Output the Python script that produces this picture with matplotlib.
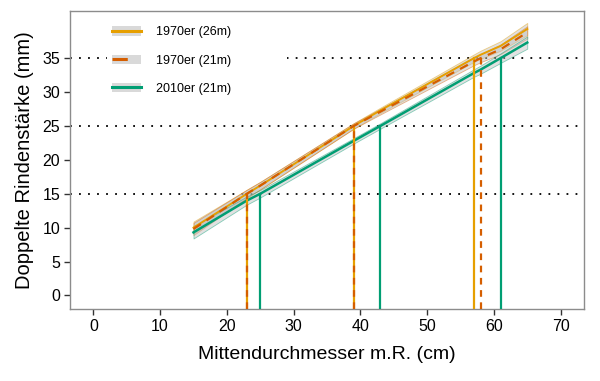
import numpy as np
import matplotlib.pyplot as plt
from matplotlib.lines import Line2D
from matplotlib.patches import Patch

plt.rcParams['font.family'] = ['Liberation Sans', 'DejaVu Sans']

# fitted lines
x_fit = [15, 23, 25, 39, 43, 57, 58, 61, 65]
y_26m_70 = [10.0, 15.0, 16.2, 25.0, 27.3, 35.0, 35.5, 36.8, 39.3]
y_21m_70 = [9.8, 15.0, 16.2, 25.0, 27.1, 34.5, 35.0, 36.3, 38.8]
y_21m_10 = [9.3, 14.0, 15.0, 22.8, 25.0, 32.8, 33.3, 35.0, 37.3]
# half width of the confidence ribbons
band = [0.9, 0.6, 0.55, 0.4, 0.4, 0.55, 0.6, 0.7, 0.9]

# diameters where the fits reach 15 / 25 / 35 mm
levels = [15, 25, 35]
cross_26m_70 = [23, 39, 57]
cross_21m_70 = [23, 39, 58]
cross_21m_10 = [25, 43, 61]

labels = ['1970er (26m)', '1970er (21m)', '2010er (21m)']
c_or, c_ve, c_gr = '#E69F00', '#D55E00', '#009E73'

fig = plt.figure(figsize=(6, 3.81), dpi=100)
ax = fig.add_axes([70/600, 1 - 309/381, 514/600, 298.3/381])

for lv in levels:
    ax.axhline(lv, color='black', lw=1.3, ls=(0, (1, 4)), zorder=1)

for ys, col in [(y_26m_70, c_or), (y_21m_70, c_ve), (y_21m_10, c_gr)]:
    ys = np.array(ys)
    bw = np.array(band)
    ax.fill_between(x_fit, ys - bw, ys + bw, facecolor='#bdbdbd', alpha=0.45,
                    edgecolor=col, linewidth=0.6, zorder=2)

ax.plot(x_fit, y_26m_70, color=c_or, lw=1.4, zorder=3)
ax.plot(x_fit, y_21m_70, color=c_ve, lw=1.6, ls=(0, (4, 3)), zorder=4)
ax.plot(x_fit, y_21m_10, color=c_gr, lw=1.8, zorder=3)

ymin = -2
for xs, lv in zip(cross_26m_70, levels):
    ax.plot([xs, xs], [ymin, lv], color=c_or, lw=1.6, zorder=3)
for xs, lv in zip(cross_21m_70, levels):
    ax.plot([xs, xs], [ymin, lv], color=c_ve, lw=1.6, ls=(0, (3, 2.5)), zorder=4)
for xs, lv in zip(cross_21m_10, levels):
    ax.plot([xs, xs], [ymin, lv], color=c_gr, lw=1.6, zorder=3)

ax.set_xlim(-3.5, 73.5)
ax.set_ylim(-2, 42)
ax.set_xticks(np.arange(0, 71, 10))
ax.set_yticks(np.arange(0, 36, 5))
ax.tick_params(labelsize=11.5, length=4, width=1, color='#333333', pad=3)
for s in ax.spines.values():
    s.set_color('#8c8c8c')
    s.set_linewidth(1)

ax.set_xlabel('Mittendurchmesser m.R. (cm)', fontsize=14, labelpad=9)
ax.set_ylabel('Doppelte Rindenstärke (mm)', fontsize=14.5, labelpad=6)

key_bg = '#d9d9d9'
handles = [
    (Patch(facecolor=key_bg, edgecolor='none'), Line2D([], [], color=c_or, lw=2.2)),
    (Patch(facecolor=key_bg, edgecolor='none'), Line2D([], [], color=c_ve, lw=2.2, ls=(0, (5, 6)))),
    (Patch(facecolor=key_bg, edgecolor='none'), Line2D([], [], color=c_gr, lw=2.2)),
]
leg = ax.legend(handles, labels, loc='upper left', bbox_to_anchor=(0.072, 0.965, 0.35, 0.0),
                mode='expand', frameon=True, facecolor='white', edgecolor='none', framealpha=1,
                fontsize=9, handlelength=2.3, handleheight=0.8, labelspacing=1.3,
                handletextpad=1.2, borderpad=0.4, borderaxespad=0)
leg.set_zorder(5)

fig.savefig('out.png', dpi=100)
